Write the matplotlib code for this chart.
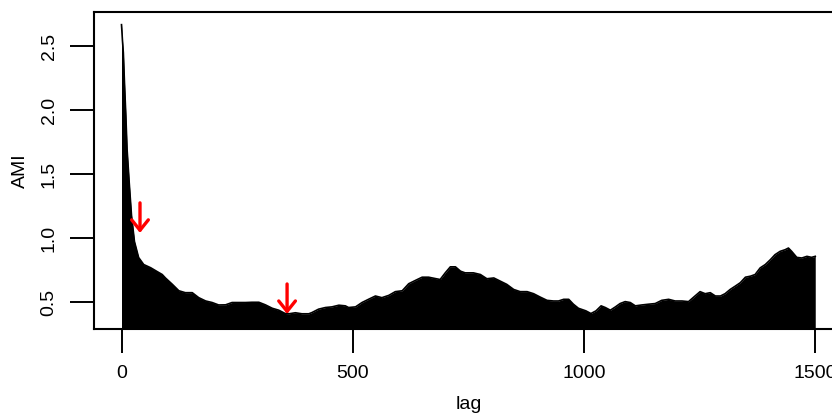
import matplotlib.pyplot as plt

plt.rcParams['font.family'] = ['Liberation Sans', 'DejaVu Sans']

# average mutual information by lag
lags = [0, 2, 4, 6.5, 9.4, 12, 16.6, 21.6, 28, 37, 48, 63, 77, 88, 95, 110,
        124, 138, 153, 167, 182, 196, 210, 225, 239, 254, 268, 282, 297, 311,
        326, 340, 354, 362, 376, 390, 398, 405, 412, 426, 441, 455, 470, 484,
        491, 506, 520, 534, 549, 563, 578, 592, 607, 621, 635, 650, 664, 679,
        689, 700, 711, 722, 733, 743, 761, 776, 790, 805, 819, 833, 848, 862,
        877, 891, 905, 920, 934, 945, 956, 967, 977, 988, 1004, 1015, 1026,
        1037, 1046, 1057, 1068, 1078, 1089, 1100, 1111, 1125, 1140, 1154,
        1168, 1183, 1197, 1212, 1226, 1240, 1251, 1262, 1273, 1284, 1295,
        1305, 1316, 1327, 1338, 1349, 1360, 1370, 1381, 1392, 1403, 1413,
        1424, 1435, 1442, 1449, 1460, 1471, 1482, 1492, 1500]
ami = [2.67, 2.55, 2.45, 2.21, 1.96, 1.70, 1.44, 1.18, 0.975, 0.85, 0.795,
       0.77, 0.74, 0.717, 0.69, 0.64, 0.59, 0.575, 0.575, 0.536, 0.51, 0.498,
       0.479, 0.48, 0.498, 0.498, 0.498, 0.50, 0.50, 0.48, 0.453, 0.438,
       0.412, 0.41, 0.418, 0.41, 0.41, 0.41, 0.42, 0.446, 0.459, 0.464, 0.477,
       0.472, 0.459, 0.464, 0.498, 0.523, 0.549, 0.536, 0.554, 0.583, 0.59,
       0.645, 0.67, 0.696, 0.696, 0.685, 0.678, 0.73, 0.777, 0.777, 0.743,
       0.73, 0.73, 0.717, 0.684, 0.69, 0.665, 0.64, 0.60, 0.583, 0.583,
       0.567, 0.541, 0.515, 0.51, 0.51, 0.523, 0.523, 0.485, 0.453, 0.433,
       0.412, 0.433, 0.472, 0.459, 0.438, 0.464, 0.49, 0.505, 0.498, 0.472,
       0.479, 0.485, 0.49, 0.515, 0.523, 0.51, 0.51, 0.505, 0.549, 0.583,
       0.567, 0.575, 0.549, 0.549, 0.567, 0.60, 0.626, 0.653, 0.696, 0.704,
       0.717, 0.769, 0.795, 0.833, 0.872, 0.898, 0.911, 0.924, 0.898, 0.851,
       0.846, 0.859, 0.851, 0.859]

# markers for the two chosen lags
arrow_lags = [40, 358]
arrow_tops = [1.277, 0.643]
arrow_tips = [1.042, 0.408]

fig = plt.figure(figsize=(8.32, 4.15), dpi=100)
ax = fig.add_axes([93.75 / 832, 1 - 328.5 / 415, 749.25 / 832, 316.5 / 415])

ax.fill_between(lags, ami, 0, color='black', lw=0)
ax.plot(lags, ami, color='black', lw=1.2)

for x, y0, y1 in zip(arrow_lags, arrow_tops, arrow_tips):
    ax.annotate('', xy=(x, y1), xytext=(x, y0),
                arrowprops=dict(arrowstyle='->, head_length=0.75, head_width=0.6',
                                color='red', lw=2.4, shrinkA=0, shrinkB=0))

ax.set_xlim(-60, 1560)
ax.set_ylim(0.295, 2.769)
ax.set_xticks([0, 500, 1000, 1500])
ax.set_yticks([0.5, 1.0, 1.5, 2.0, 2.5])
ax.set_yticklabels(['0.5', '1.0', '1.5', '2.0', '2.5'], rotation=90, va='center')
ax.tick_params(direction='out', length=17, width=1.4, labelsize=14, pad=9)
for s in ax.spines.values():
    s.set_linewidth(1.5)

ax.set_xlabel('lag', fontsize=14)
ax.set_ylabel('AMI', fontsize=14, va='center')
ax.xaxis.set_label_coords(0.5, -0.212)
ax.yaxis.set_label_coords(-0.098, 0.5)

fig.savefig('out.png', dpi=100)
